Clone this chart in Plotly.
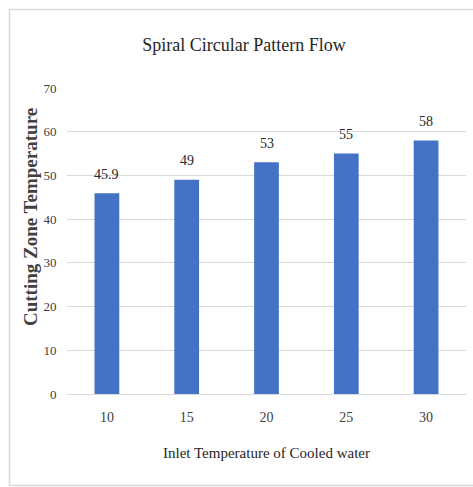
import plotly.graph_objects as go

categories = ["10", "15", "20", "25", "30"]
values = [45.9, 49, 53, 55, 58]
labels = ["45.9", "49", "53", "55", "58"]
y_ticks = [0, 10, 20, 30, 40, 50, 60, 70]

SERIF = "Liberation Serif, Times New Roman, serif"

fig = go.Figure()
fig.add_trace(go.Bar(
    x=categories, y=values,
    marker=dict(color="#4472C4", line=dict(width=0)),
    width=0.31,
))

W, H = 473, 487
L, R, T, B = 67, 7, 88, 93
pw, ph = W - L - R, H - T - B

annotations = [dict(text=t, x=i, y=v, xref="x", yref="y", yshift=19,
                    xanchor="center", yanchor="middle", showarrow=False,
                    font=dict(family=SERIF, size=14, color="#262626"))
               for i, (v, t) in enumerate(zip(values, labels))]
annotations.append(dict(text="<b>Cutting Zone Temperature</b>", textangle=-90,
                        xref="paper", yref="paper", x=(31 - L) / pw, y=(394 - 217) / ph,
                        xanchor="center", yanchor="middle", showarrow=False,
                        font=dict(family=SERIF, size=19, color="#404040")))

fig.update_layout(
    width=W, height=H,
    margin=dict(l=L, r=R, t=T, b=B),
    paper_bgcolor="white", plot_bgcolor="white",
    showlegend=False,
    title=dict(text="Spiral Circular Pattern Flow", x=244 / W, xanchor="center",
               y=1 - 45 / H, yanchor="middle",
               font=dict(family=SERIF, size=18, color="#262626")),
    xaxis=dict(type="category", range=[-0.5, len(categories) - 0.5],
               showgrid=False, showline=True, linecolor="#d9d9d9",
               linewidth=1, ticks="outside", ticklen=10, tickcolor="rgba(0,0,0,0)",
               tickfont=dict(family=SERIF, size=14, color="#404040"),
               title=dict(text="Inlet Temperature of Cooled water",
                          font=dict(family=SERIF, size=15, color="#262626"),
                          standoff=23)),
    yaxis=dict(range=[0, 70], tickvals=y_ticks, showgrid=True, gridcolor="#d9d9d9",
               gridwidth=1, zeroline=False, showline=False,
               ticks="outside", ticklen=7, tickcolor="rgba(0,0,0,0)",
               tickfont=dict(family=SERIF, size=13, color="#404040")),
    annotations=annotations,
    shapes=[dict(type="rect", xref="paper", yref="paper",
                 x0=(9.5 - L) / pw, x1=(W + 5 - L) / pw,
                 y0=-(485.5 - (H - B)) / ph, y1=1 + (T - 9.5) / ph,
                 line=dict(color="#d9d9d9", width=1.5), layer="below")],
)

fig.write_html("out.html")
